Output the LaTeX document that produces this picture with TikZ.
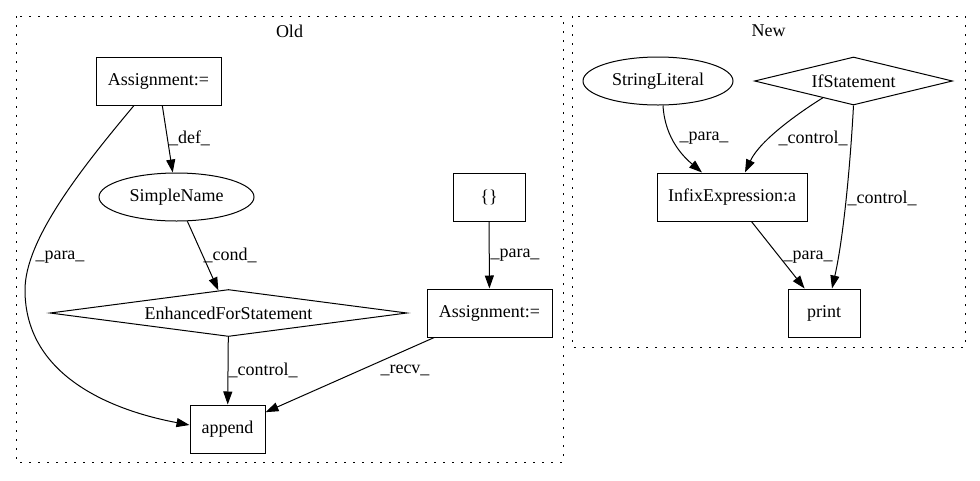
\documentclass[tikz,border=0pt]{standalone}
\usepackage{fontspec}
\setmainfont{Liberation Serif}
\usetikzlibrary{shapes.geometric,arrows.meta,calc}
\begin{document}
\begin{tikzpicture}[x=1pt,y=-1pt,
  every node/.style={font=\fontsize{18}{20}\selectfont},
  box/.style={draw,line width=1pt,rectangle,inner sep=0pt,minimum height=48pt},
  oval/.style={draw,line width=1pt,ellipse,inner sep=0pt,minimum height=48pt},
  rhomb/.style={draw,line width=1pt,diamond,inner sep=0pt},
  edge/.style={line width=1pt,-{Triangle[length=13pt,width=9pt]}},
  elabel/.style={inner sep=0pt},
  cluster/.style={line width=1pt,dash pattern=on 2pt off 7pt}]
\useasboundingbox (0,0) rectangle (980,480);

% clusters
\draw[cluster] (16,16) rectangle (563,462);
\node (oldlbl) at (289.5,31) {Old};
\draw[cluster] (572,16) rectangle (965,347);
\node (newlbl) at (768.5,31) {New};

% Old graph
\node[box,minimum width=125pt] (a1) at (158.5,81) {Assignment:=};
\node[oval,minimum width=155pt] (sn) at (176.5,197) {SimpleName};
\node[box,minimum width=72pt] (br) at (489,197) {\{\}};
\node[rhomb,shape aspect=7.6,minimum width=357pt,minimum height=47pt] (efs) at (228.5,313) {EnhancedForStatement};
\node[box,minimum width=125pt] (a2) at (489.5,313) {Assignment:=};
\node[box,minimum width=75pt] (ap) at (227.5,429) {append};

% New graph
\node[oval,minimum width=150pt] (sl) at (658,81) {StringLiteral};
\node[rhomb,shape aspect=4.125,minimum width=198pt,minimum height=48pt] (ifs) at (853.5,81) {IfStatement};
\node[box,minimum width=150pt] (ix) at (732,197) {InfixExpression:a};
\node[box,minimum width=72pt] (pr) at (824,313) {print};

% Old edges
\draw[edge] (a1) -- (sn);
\coordinate (p1) at ($(a1.south)+(-24.5,0)$);
\coordinate (bend) at (25,290);
\coordinate (p2) at ($(ap.west)+(0,-4)$);
\draw[edge] (p1) .. controls (80,170) and (25,240) .. (bend)
  .. controls (25,380) and (120,412) .. (p2);
\draw[edge] (sn) -- (efs);
\draw[edge] (br) -- (a2);
\draw[edge] (efs) -- (ap);
\draw[edge] (a2) -- (ap);

% New edges
\coordinate (q1) at ($(sl.south)+(5,0)$);
\coordinate (q2) at ($(ix.north)+(-30,0)$);
\draw[edge] (q1) .. controls (665,140) and (685,158) .. (q2);
\coordinate (q3) at ($(ifs.west)!0.69!(ifs.south)$);
\coordinate (q4) at ($(ix.north)+(13,0)$);
\draw[edge] (q3) .. controls (800,112) and (760,140) .. (q4);
\coordinate (q5) at ($(pr.north)+(8,0)$);
\draw[edge] (ifs.south) .. controls (850,170) and (843,240) .. (q5);
\draw[edge] (ix) -- (pr);

% edge labels
\node[elabel] (l1) at (189.5,138) {\_def\_};
\node[elabel] (l2) at (60,257) {\_para\_};
\node[elabel] (l3) at (230,255) {\_cond\_};
\node[elabel] (l4) at (515,255) {\_para\_};
\node[elabel] (l5) at (263,370) {\_control\_};
\node[elabel] (l6) at (405,370) {\_recv\_};
\node[elabel] (l7) at (704,138) {\_para\_};
\node[elabel] (l8) at (813,138) {\_control\_};
\node[elabel] (l9) at (882,198) {\_control\_};
\node[elabel] (l10) at (808,257) {\_para\_};
\end{tikzpicture}
\end{document}
